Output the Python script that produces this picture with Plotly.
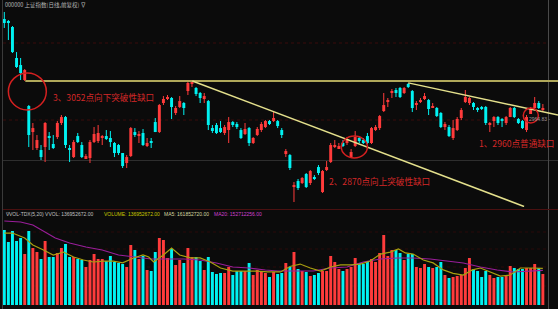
import plotly.graph_objects as go

# ---------------- data ----------------
idx = list(range(1, 134))

open_ = [3218.2, 3212.8, 3196.7, 3113.6, 3094.8, 3054.6, 2985.0, 2915.2, 2872.4, 2867.0,
         2875.0, 2903.2, 2883.1, 2901.8, 2939.4, 2955.4, 2872.4, 2848.2, 2904.5, 2880.4,
         2845.6, 2845.6, 2888.4, 2891.1, 2901.8, 2904.5, 2899.2, 2885.8, 2880.4, 2859.0,
         2832.2, 2850.9, 2915.2, 2904.5, 2912.6, 2877.7, 2891.1, 2942.0, 2915.2, 2993.0,
         3006.4, 3006.4, 2966.2, 2982.3, 2993.0, 3025.1, 3046.6, 3033.2, 3019.8, 3006.4,
         2998.3, 2925.9, 2934.0, 2925.9, 2912.6, 2920.6, 2942.0, 2936.7, 2920.6, 2909.9,
         2925.9, 2885.8, 2907.2, 2920.6, 2928.6, 2944.7, 2944.7, 2944.7, 2920.6, 2859.0,
         2853.6, 2767.8, 2783.9, 2778.6, 2802.7, 2778.6, 2794.6, 2821.4, 2754.4, 2813.4,
         2834.8, 2875.0, 2872.4, 2885.8, 2885.8, 2848.2, 2877.7, 2899.2, 2893.8, 2904.5,
         2885.8, 2920.6, 2925.9, 2971.5, 2995.6, 3022.5, 3027.8, 3033.2, 3019.8, 3044.0,
         3025.1, 2987.6, 2995.6, 3006.4, 3001.0, 2982.3, 2979.6, 2966.2, 2928.6, 2928.6,
         2899.2, 2920.6, 2952.8, 2995.6, 2993.0, 2993.0, 2979.6, 2982.3, 2982.3, 2936.7,
         2944.7, 2955.4, 2950.1, 2939.4, 2955.4, 2979.6, 2950.1, 2944.7, 2920.6, 2963.5,
         2979.6, 2993.0, 2976.9]

high = [3237.0, 3215.4, 3199.4, 3129.6, 3113.6, 3084.1, 2987.6, 2939.4, 2907.2, 2880.4,
        2942.0, 2915.2, 2907.2, 2944.7, 2960.8, 2958.1, 2880.4, 2893.8, 2912.6, 2888.4,
        2856.3, 2893.8, 2928.6, 2934.0, 2907.2, 2920.6, 2917.9, 2888.4, 2883.1, 2859.0,
        2853.6, 2928.6, 2925.9, 2917.9, 2923.3, 2899.2, 2899.2, 2952.8, 2990.3, 3011.7,
        3014.4, 3009.0, 2985.0, 3011.7, 2995.6, 3049.3, 3054.6, 3036.0, 3022.5, 3019.8,
        3001.0, 2934.0, 2939.4, 2944.7, 2934.0, 2955.4, 2944.7, 2942.0, 2925.9, 2939.4,
        2928.6, 2901.8, 2928.6, 2942.0, 2947.4, 2947.4, 2968.8, 2947.4, 2925.9, 2869.7,
        2856.3, 2781.2, 2789.3, 2794.6, 2805.4, 2813.4, 2799.9, 2826.8, 2813.4, 2837.5,
        2885.8, 2893.8, 2885.8, 2893.8, 2901.8, 2869.7, 2917.9, 2904.5, 2899.2, 2912.6,
        2928.6, 2934.0, 2960.8, 3019.8, 3006.4, 3030.5, 3033.2, 3036.0, 3036.0, 3046.6,
        3027.8, 2998.3, 3006.4, 3019.8, 3003.7, 2993.0, 2982.3, 2968.8, 2942.0, 2934.0,
        2947.4, 2955.4, 2979.6, 3027.8, 3009.0, 2995.6, 2982.3, 2985.0, 2985.0, 2942.0,
        2958.1, 2958.1, 2952.8, 2958.1, 2982.3, 2982.3, 2952.8, 2947.4, 2960.8, 2982.3,
        3009.0, 2998.3, 2990.3]

low = [3194.1, 3161.8, 3127.0, 3086.8, 3054.6, 3052.0, 2875.0, 2867.0, 2867.0, 2840.2,
       2834.8, 2867.0, 2869.7, 2896.5, 2934.0, 2872.4, 2834.8, 2845.6, 2885.8, 2845.6,
       2842.9, 2832.2, 2885.8, 2885.8, 2880.4, 2893.8, 2875.0, 2848.2, 2853.6, 2818.8,
       2818.8, 2848.2, 2901.8, 2885.8, 2877.7, 2875.0, 2872.4, 2915.2, 2912.6, 2987.6,
       3001.0, 2950.1, 2960.8, 2979.6, 2960.8, 3014.4, 3036.0, 3011.7, 2993.0, 2993.0,
       2920.6, 2912.6, 2909.9, 2912.6, 2907.2, 2885.8, 2928.6, 2923.3, 2896.5, 2907.2,
       2877.7, 2883.1, 2904.5, 2915.2, 2925.9, 2934.0, 2942.0, 2925.9, 2899.2, 2848.2,
       2813.4, 2727.6, 2759.8, 2775.9, 2765.2, 2773.2, 2786.6, 2799.9, 2751.8, 2810.7,
       2832.2, 2872.4, 2869.7, 2875.0, 2880.4, 2847.0, 2875.0, 2885.8, 2883.1, 2883.1,
       2883.1, 2917.9, 2920.6, 2968.8, 2982.3, 3006.4, 3009.0, 3006.4, 3017.1, 3033.2,
       2968.8, 2974.2, 2993.0, 3001.0, 2960.8, 2979.6, 2955.4, 2925.9, 2920.6, 2901.8,
       2893.8, 2917.9, 2947.4, 2993.0, 2987.6, 2974.2, 2968.8, 2974.2, 2934.0, 2915.2,
       2928.6, 2934.0, 2928.6, 2934.0, 2955.4, 2952.8, 2936.7, 2923.3, 2915.2, 2963.5,
       2974.2, 2976.9, 2968.8]

close = [3207.5, 3210.1, 3129.6, 3089.5, 3073.4, 3081.4, 2907.2, 2925.9, 2893.8, 2848.2,
         2939.4, 2900.5, 2872.4, 2939.4, 2955.4, 2880.4, 2867.0, 2888.4, 2888.4, 2848.2,
         2850.9, 2888.4, 2909.9, 2912.6, 2904.5, 2896.5, 2888.4, 2859.0, 2859.0, 2824.1,
         2848.2, 2925.9, 2907.2, 2909.9, 2880.4, 2885.8, 2888.4, 2915.2, 2987.6, 3003.7,
         3009.0, 2982.3, 2979.6, 2998.3, 2979.6, 3046.6, 3049.3, 3017.1, 3006.4, 3011.7,
         2934.0, 2920.6, 2912.6, 2915.2, 2928.6, 2942.0, 2934.0, 2928.6, 2899.2, 2923.3,
         2885.8, 2899.2, 2923.3, 2936.7, 2944.7, 2939.4, 2952.8, 2931.3, 2907.2, 2864.3,
         2818.8, 2773.2, 2765.2, 2792.0, 2767.8, 2810.7, 2792.0, 2805.4, 2810.7, 2821.4,
         2880.4, 2880.4, 2877.7, 2877.7, 2896.5, 2861.6, 2901.8, 2891.1, 2885.8, 2885.8,
         2925.9, 2928.6, 2958.1, 2987.6, 3001.0, 3025.1, 3019.8, 3009.0, 3033.2, 3036.0,
         2979.6, 2993.0, 3001.0, 3011.7, 2976.9, 2985.0, 2958.1, 2928.6, 2936.7, 2904.5,
         2925.9, 2950.1, 2974.2, 3009.0, 3006.4, 2982.3, 2976.9, 2979.6, 2939.4, 2939.4,
         2955.4, 2939.4, 2944.7, 2955.4, 2979.6, 2955.4, 2939.4, 2925.9, 2955.4, 2979.6,
         2993.0, 2979.6, 2979.6]

# volume, millions of shares
vol_m = [331.5, 278.5, 327.1, 282.9, 296.1, 225.4, 327.1, 251.9, 234.3, 203.3,
         282.9, 212.2, 212.2, 229.8, 251.9, 269.6, 212.2, 212.2, 203.3, 198.9,
         168.0, 198.9, 225.4, 203.3, 203.3, 194.5, 216.6, 190.1, 185.6, 181.2,
         168.0, 265.2, 243.1, 203.3, 216.6, 154.7, 150.3, 234.3, 296.1, 287.3,
         207.7, 247.5, 176.8, 198.9, 185.6, 251.9, 212.2, 212.2, 194.5, 154.7,
         212.2, 145.9, 137.0, 141.4, 141.4, 168.0, 132.6, 150.3, 150.3, 150.3,
         185.6, 132.6, 154.7, 150.3, 141.4, 123.8, 145.9, 137.0, 141.4, 185.6,
         168.0, 234.3, 159.1, 150.3, 145.9, 128.2, 132.6, 141.4, 150.3, 150.3,
         216.6, 190.1, 159.1, 150.3, 159.1, 168.0, 207.7, 185.6, 181.2, 194.5,
         203.3, 190.1, 229.8, 309.4, 216.6, 243.1, 243.1, 229.8, 198.9, 225.4,
         225.4, 168.0, 163.5, 181.2, 168.0, 163.5, 168.0, 190.1, 132.6, 119.3,
         123.8, 128.2, 132.6, 163.5, 207.7, 159.1, 150.3, 123.8, 150.3, 132.6,
         119.3, 123.8, 123.8, 132.6, 172.4, 163.5, 159.1, 159.1, 163.5, 163.5,
         181.2, 163.5, 136.952672]

# MA lines of volume (candle index, millions)
ma5_i = [1, 3, 6, 8, 10.6, 13, 15.5, 18, 20.4, 22.8, 25.3, 27.7, 30, 32.7, 35, 36.4, 37.6,
         40, 42, 44, 46.6, 49, 51.5, 54, 57, 60.5, 63, 65.5, 68.7, 71, 73.5, 76, 78.5, 81,
         83.4, 85.8, 88.3, 90.7, 93.2, 95.6, 97.6, 99.3, 101.2, 103.7, 106.1, 108.6, 111,
         113.5, 115.7, 117.7, 120.1, 122.6, 125, 127.5, 130, 133]
ma5_v = [318, 318, 296, 265, 243, 221, 234, 212, 199, 190, 194, 194, 186, 208, 221, 212, 190,
         221, 252, 221, 208, 208, 190, 163.5, 150, 150, 150, 146, 146, 170, 181, 163.5, 150,
         168, 177, 177, 181, 194.5, 225, 234, 247.5, 230, 225, 199, 186, 155, 140, 132.6,
         155, 163.5, 146, 128, 132.6, 163.5, 163.5, 161.85272]
ma20_i = [1, 5, 8, 11, 13.5, 17, 21, 25, 29, 33, 37, 41, 45, 49, 53, 57, 61, 65, 68, 72.8,
          76.7, 80.9, 85, 89, 93.2, 97.3, 101.2, 105.4, 109.6, 113.5, 117.7, 121.8, 125.8,
          129.9, 133]
ma20_v = [371.3, 366.9, 353.6, 322.7, 296.1, 274, 256.4, 243.1, 221, 212.2, 203.3, 203.3,
          203.3, 198.9, 185.6, 168, 163.5, 154.7, 150.3, 150.3, 150.3, 163.5, 168, 190.1,
          203.3, 207.7, 207.7, 203.3, 194.5, 185.6, 168, 154.7, 145.9, 150.3, 152.712256]

# gap annotations
gap_labels = ["3、3052点向下突破性缺口", "2、2870点向上突破性缺口", "1、2960点普通缺口"]
last_label = "2964.83"

title_main = "000000 上证指数(日线,前复权) ∇"
vol_title_parts = ["∇VOL-TDX(5,20) VVOL: 136952672.00", "VOLUME: 136952672.00",
                   "MA5: 161852720.00", "MA20: 152712256.00"]

# ---------------- figure ----------------
W, H = 558, 309
RED = '#ff3b3b'
CYAN = '#00f2f2'
BG = '#0b0b0b'

def px(xp):
    return xp / W

def py(yp):
    return 1 - yp / H

# pixel geometry of the two panels
x_first_px, step_px = 4.3, 4.08
x0 = 1 - x_first_px / step_px
x1 = x0 + W / step_px
k = 2.68           # price per pixel
y_ref_px, p_ref = 81, 3052
def price_at(yp):
    return p_ref - (yp - y_ref_px) * k
main_top, main_bot = 8, 207
vol_top, vol_bot = 208, 305
vpp = 4.42e6       # volume per pixel
min_body = 0.9 * k

vol = [v * 1e6 for v in vol_m]
inc = [c >= o for o, c in zip(open_, close)]
colors = [RED if u else CYAN for u in inc]

fig = go.Figure()

# wicks
for flag, col in [(True, RED), (False, CYAN)]:
    wx, wy = [], []
    for i, h, l, u in zip(idx, high, low, inc):
        if u == flag:
            wx += [i, i, None]
            wy += [l, h, None]
    fig.add_trace(go.Scatter(x=wx, y=wy, mode='lines', line=dict(color=col, width=1),
                             xaxis='x', yaxis='y', showlegend=False, hoverinfo='skip'))

# bodies
base = [min(o, c) for o, c in zip(open_, close)]
body = [max(abs(c - o), min_body) for o, c in zip(open_, close)]
fig.add_trace(go.Bar(x=idx, y=body, base=base, width=0.72,
                     marker=dict(color=colors, line=dict(width=0)),
                     xaxis='x', yaxis='y', showlegend=False, hoverinfo='skip'))

# volume
fig.add_trace(go.Bar(x=idx, y=vol, width=0.72,
                     marker=dict(color=colors, line=dict(width=0)),
                     xaxis='x', yaxis='y2', showlegend=False, hoverinfo='skip'))
fig.add_trace(go.Scatter(x=ma20_i, y=[v * 1e6 for v in ma20_v], mode='lines',
                         line=dict(color='#9a1e9a', width=1.2), xaxis='x', yaxis='y2',
                         showlegend=False, hoverinfo='skip'))
fig.add_trace(go.Scatter(x=ma5_i, y=[v * 1e6 for v in ma5_v], mode='lines',
                         line=dict(color='#a8a010', width=1.2), xaxis='x', yaxis='y2',
                         showlegend=False, hoverinfo='skip'))

fig.update_layout(
    width=W, height=H, margin=dict(l=0, r=0, t=0, b=0),
    paper_bgcolor=BG, plot_bgcolor=BG, showlegend=False, barmode='overlay',
    xaxis=dict(range=[x0, x1], visible=False, domain=[0, 1], fixedrange=True),
    yaxis=dict(range=[price_at(main_bot), price_at(main_top)], visible=False,
               domain=[py(main_bot), py(main_top)], fixedrange=True),
    yaxis2=dict(range=[0, (vol_bot - vol_top) * vpp], visible=False,
                domain=[py(vol_bot), py(vol_top)], fixedrange=True, anchor='x'),
)

shapes = []
shapes.append(dict(type='line', xref='paper', yref='paper', x0=px(2.5), x1=px(2.5), y0=0, y1=1,
                   line=dict(color='#3a3a3a', width=1)))
shapes.append(dict(type='line', xref='paper', yref='paper', x0=px(548.5), x1=px(548.5), y0=0, y1=1,
                   line=dict(color='#4a4a4a', width=1)))
for gy in [43, 120]:
    shapes.append(dict(type='line', xref='paper', yref='paper', x0=px(3), x1=px(548), y0=py(gy), y1=py(gy),
                       line=dict(color='#3a0c0c', width=1, dash='dot'), layer='below'))
shapes.append(dict(type='line', xref='paper', yref='paper', x0=px(3), x1=1, y0=py(160.5), y1=py(160.5),
                   line=dict(color='#2e2e2e', width=1), layer='below'))
shapes.append(dict(type='line', xref='paper', yref='paper', x0=px(3), x1=1, y0=py(209.5), y1=py(209.5),
                   line=dict(color='#4a1010', width=1)))
for gy in [232, 249, 267, 286]:
    shapes.append(dict(type='line', xref='paper', yref='paper', x0=px(3), x1=px(548), y0=py(gy), y1=py(gy),
                       line=dict(color='#2a0a0a', width=1, dash='dot'), layer='below'))

# trend / gap lines (data coordinates)
shapes.append(dict(type='line', xref='x', yref='y', x0=6.15, x1=x1, y0=3052, y1=3052,
                   line=dict(color='#b0a85a', width=2)))
shapes.append(dict(type='line', xref='x', yref='y', x0=47.1, x1=128.4, y0=3052, y1=price_at(206.5),
                   line=dict(color='#e4e08c', width=1.5)))
shapes.append(dict(type='line', xref='x', yref='y', x0=100.0, x1=x1, y0=3047, y1=2961,
                   line=dict(color='#e4e08c', width=1.5)))
for (cx0, cx1, cy0, cy1) in [(2.0, 11.3, 2974.3, 3073.5), (83.6, 90.0, 2845.7, 2904.6),
                             (128.2, 131.9, 2939.5, 2979.7)]:
    shapes.append(dict(type='circle', xref='x', yref='y', x0=cx0, x1=cx1, y0=cy0, y1=cy1,
                       line=dict(color='#d42020', width=1.5)))
fig.update_layout(shapes=shapes)

ann = []
ann.append(dict(text=title_main, xref='paper', yref='paper', x=px(3), y=py(5), xanchor='left',
                yanchor='middle', showarrow=False,
                font=dict(size=5.5, color='#b8b8b8', family='Noto Sans CJK SC')))
label_pos = [(51, 96.5), (327, 180.5), (477, 143)]
for t, (lx, ly) in zip(gap_labels, label_pos):
    ann.append(dict(text=t, xref='paper', yref='paper', x=px(lx), y=py(ly), xanchor='left',
                    yanchor='middle', showarrow=False,
                    font=dict(size=8.6, color='#d42828', family='Noto Sans CJK SC')))
ann.append(dict(text=last_label + ' -', xref='paper', yref='paper', x=px(527), y=py(119),
                xanchor='left', yanchor='middle', showarrow=False,
                font=dict(size=5, color='#9a9a9a', family='Liberation Sans')))
vcols = ['#c0c0c0', '#c8c800', '#d8d8a0', '#d040d0']
vx = [3, 102, 162, 212]
for t, c, xx in zip(vol_title_parts, vcols, vx):
    ann.append(dict(text=t, xref='paper', yref='paper', x=px(xx), y=py(214), xanchor='left',
                    yanchor='middle', showarrow=False,
                    font=dict(size=5, color=c, family='Liberation Sans')))
fig.update_layout(annotations=ann)

fig.write_html("out.html")
